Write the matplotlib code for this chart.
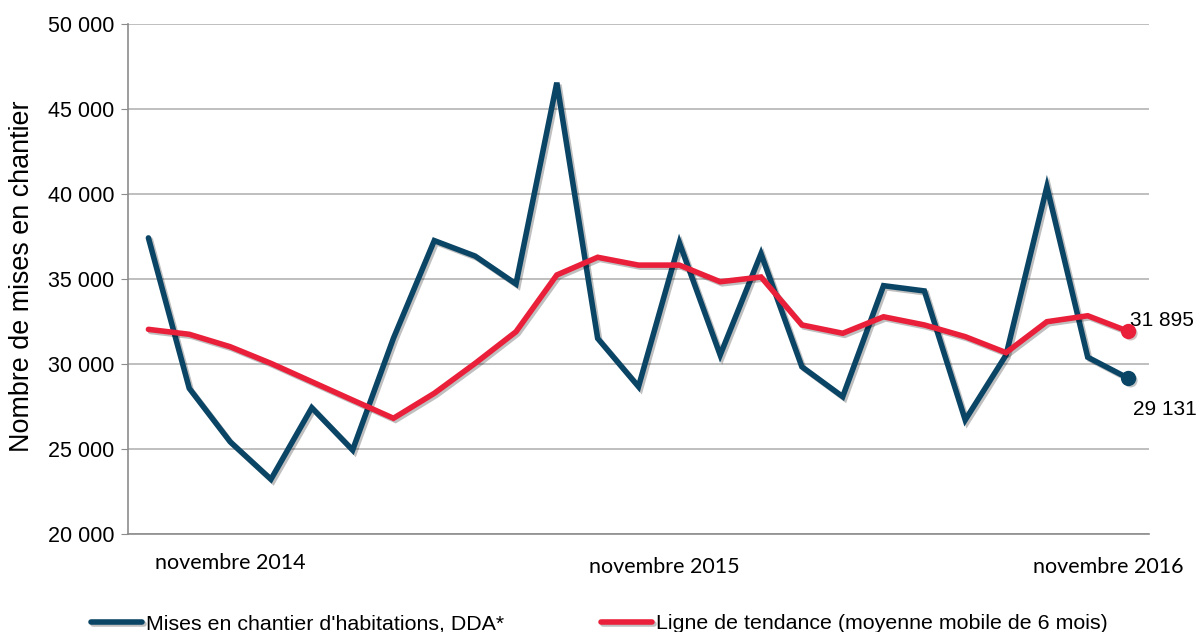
import numpy as np
import matplotlib
matplotlib.use("Agg")
import matplotlib.pyplot as plt
import matplotlib.patheffects as pe
import matplotlib.transforms as mtransforms

# Monthly values, novembre 2014 -> novembre 2016
mises = [37400, 28550, 25410, 23200, 27410, 24920, 31500, 37240, 36330, 34690,
         46530, 31490, 28650, 37120, 30510, 36470, 29820, 28060, 34590, 34280,
         26690, 30510, 40410, 30380, 29131]
tendance = [32020, 31730, 31000, 30020, 28940, 27860, 26790, 28260, 30020, 31880,
            35220, 36260, 35800, 35800, 34820, 35100, 32280, 31790, 32760, 32280,
            31590, 30650, 32470, 32820, 31895]
month_labels = ["novembre 2014", "novembre 2015", "novembre 2016"]
label_pos = [2.0, 12.64, 23.49]   # where the category labels sit on the axis
y_ticks = [20000, 25000, 30000, 35000, 40000, 45000, 50000]

blue = "#0b4566"
red = "#ea1f3a"
sans = ["Liberation Sans", "DejaVu Sans"]

fig = plt.figure(figsize=(11.98, 6.32), dpi=100)
ax = fig.add_axes([128 / 1198, 1 - 533.7 / 632, (1149 - 128) / 1198, (533.7 - 23.7) / 632])

x = np.arange(len(mises))
shadow = [pe.SimpleLineShadow(offset=(1.5, -1.5), alpha=0.25, shadow_color="black"), pe.Normal()]

ax.plot(x, mises, color=blue, lw=4, solid_joinstyle="miter", solid_capstyle="round",
        path_effects=shadow, label="Mises en chantier d'habitations, DDA*", zorder=3)
ax.plot(x, tendance, color=red, lw=4, solid_joinstyle="miter", solid_capstyle="round",
        path_effects=shadow, label="Ligne de tendance (moyenne mobile de 6 mois)", zorder=4)
ax.plot(x[-1], mises[-1], "o", color=blue, ms=10, zorder=5,
        path_effects=[pe.SimplePatchShadow(offset=(1.5, -1.5), alpha=0.25), pe.Normal()])
ax.plot(x[-1], tendance[-1], "o", color=red, ms=10, zorder=5,
        path_effects=[pe.SimplePatchShadow(offset=(1.5, -1.5), alpha=0.25), pe.Normal()])

fmt = lambda v: f"{v:,.0f}".replace(",", " ")
ax.annotate(fmt(tendance[-1]), (x[-1], tendance[-1]), xytext=(1, 8), textcoords="offset points",
            fontsize=15, family=sans, ha="left", va="center")
ax.annotate(fmt(mises[-1]), (x[-1], mises[-1]), xytext=(3, -22), textcoords="offset points",
            fontsize=15, family=sans, ha="left", va="center")

ax.set_xlim(-0.5, 24.5)
ax.set_ylim(20000, 50000)
ax.set_yticks(y_ticks)
ax.set_yticklabels([fmt(v) for v in y_ticks], fontsize=15.5, family=sans)
ax.tick_params(axis="y", length=5, color="#8c8c8c", pad=5)
ax.set_xticks([])
ax.grid(axis="y", color="#b4b4b4", lw=1.2)
ax.set_axisbelow(True)
for s in ["top", "right"]:
    ax.spines[s].set_visible(False)
ax.spines["left"].set_color("#8c8c8c")
ax.spines["bottom"].set_color("#8c8c8c")
ax.spines["left"].set_linewidth(1.2)
ax.spines["bottom"].set_linewidth(1.2)

ax.set_ylabel("Nombre de mises en chantier", fontsize=19.4, family=sans)
ax.yaxis.set_label_coords(-93 / 1021, 0.505)

trans = mtransforms.blended_transform_factory(ax.transData, ax.transAxes)
label_y = [-0.058, -0.066, -0.066]
for pos, lab, yy in zip(label_pos, month_labels, label_y):
    ax.text(pos, yy, lab, transform=trans, ha="center", va="center",
            fontsize=15.5, family=["Lato", "DejaVu Sans"])

fig.legend(loc="lower left", bbox_to_anchor=(82 / 1198, -10 / 632), ncol=2, frameon=False,
           prop={"family": sans, "size": 15.4}, handlelength=2.4, handletextpad=0.2,
           columnspacing=4.5, borderaxespad=0)

fig.savefig("out.png", dpi=100)
